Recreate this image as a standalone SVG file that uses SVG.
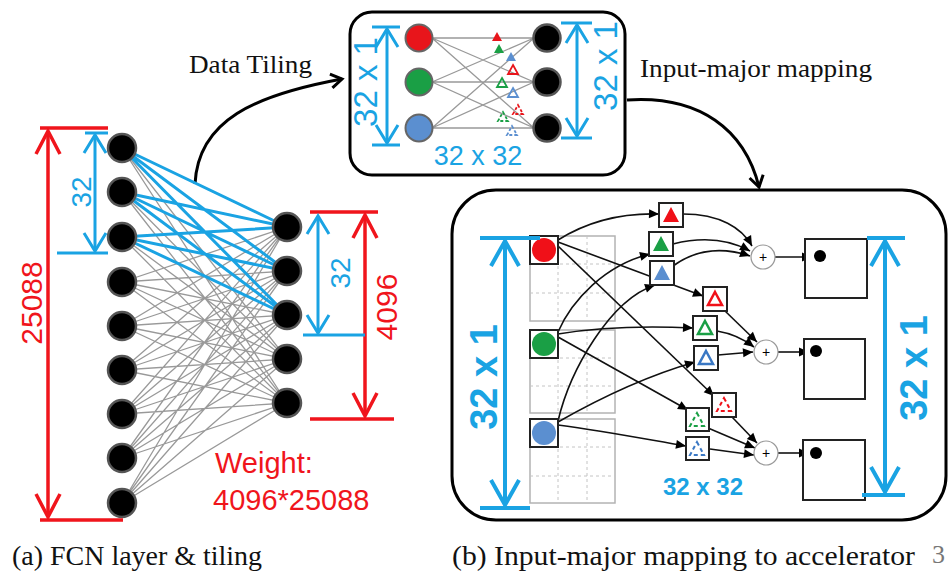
<svg xmlns="http://www.w3.org/2000/svg" width="948" height="575" viewBox="0 0 948 575">
  <style>
    .serif { font-family: "Liberation Serif", "Times New Roman", serif; fill: #111; }
    .sans { font-family: "Liberation Sans", Arial, sans-serif; }
    .red { fill: #f0151c; }
    .blue { fill: #1aa3e3; }
    .gl { stroke: #999; stroke-width: 1.3; fill: none; }
    .bl { stroke: #1aa3e3; stroke-width: 3; fill: none; }
    .node { fill: #000; stroke: #555; stroke-width: 2.5; }
    .dimR { stroke: #f0151c; stroke-width: 3.5; fill: none; }
    .dimB { stroke: #1aa3e3; stroke-width: 3; fill: none; }
    .dimBB { stroke: #1aa3e3; stroke-width: 4; fill: none; }
    .frame { fill: #fff; stroke: #000; stroke-width: 3; }
    .link { stroke: #111; stroke-width: 1.6; fill: none; }
    .wbox { fill: #fff; stroke: #222; stroke-width: 2; }
    .grid { fill: #fff; stroke: #b3b3b3; stroke-width: 1.5; }
    .gridd { stroke: #c4c4c4; stroke-width: 1; stroke-dasharray: 3 3; fill: none; }
    .plus { fill: #fff; stroke: #999; stroke-width: 1.2; }
    .obox { fill: #fff; stroke: #222; stroke-width: 2; }
  </style>
  <defs>
    <marker id="chev" markerUnits="userSpaceOnUse" viewBox="-14 -10 16 20" refX="0" refY="0" markerWidth="16" markerHeight="20" orient="auto" overflow="visible">
      <path d="M-11,-7 L0,0 L-11,7" fill="none" stroke="#000" stroke-width="3"/>
    </marker>
    <marker id="ah" markerUnits="userSpaceOnUse" viewBox="-10 -5 10 10" refX="0" refY="0" markerWidth="10" markerHeight="10" orient="auto" overflow="visible">
      <path d="M-10,-4.5 L0,0 L-10,4.5 Z" fill="#000"/>
    </marker>
    <marker id="vR" markerUnits="userSpaceOnUse" viewBox="-26 -14 28 28" refX="0" refY="0" markerWidth="28" markerHeight="28" orient="auto-start-reverse" overflow="visible">
      <path d="M-23,-12 L0,0 L-23,12" fill="none" stroke="#f0151c" stroke-width="3.5"/>
    </marker>
    <marker id="vB" markerUnits="userSpaceOnUse" viewBox="-22 -12 24 24" refX="0" refY="0" markerWidth="24" markerHeight="24" orient="auto-start-reverse" overflow="visible">
      <path d="M-18,-11 L0,0 L-18,11" fill="none" stroke="#1aa3e3" stroke-width="3"/>
    </marker>
    <marker id="vBB" markerUnits="userSpaceOnUse" viewBox="-28 -16 30 32" refX="0" refY="0" markerWidth="30" markerHeight="32" orient="auto-start-reverse" overflow="visible">
      <path d="M-25,-14 L0,0 L-25,14" fill="none" stroke="#1aa3e3" stroke-width="4"/>
    </marker>
  </defs>

  <rect width="948" height="575" fill="#fff"/>

  <!-- flow arrows between panels -->
  <g id="connectors">
    <path d="M195,184 C198,120 255,95 342,79" fill="none" stroke="#000" stroke-width="3" marker-end="url(#chev)"/>
    <path d="M627,100 C700,95 745,130 759,187" fill="none" stroke="#000" stroke-width="3" marker-end="url(#chev)"/>
  </g>
  <text class="serif" x="189" y="73" font-size="25" textLength="123" lengthAdjust="spacingAndGlyphs">Data Tiling</text>
  <text class="serif" x="640" y="77" font-size="25" textLength="232" lengthAdjust="spacingAndGlyphs">Input-major mapping</text>

  <!-- (a) fully connected layer -->
  <g id="fcn-links">
    <path class="gl" d="M122 148L287 227M122 148L287 271M122 148L287 315M122 148L287 359M122 148L287 403
      M122 192L287 227M122 192L287 271M122 192L287 315M122 192L287 359M122 192L287 403
      M122 237L287 227M122 237L287 271M122 237L287 315M122 237L287 359M122 237L287 403
      M122 282L287 227M122 282L287 271M122 282L287 315M122 282L287 359M122 282L287 403
      M122 326L287 227M122 326L287 271M122 326L287 315M122 326L287 359M122 326L287 403
      M122 370L287 227M122 370L287 271M122 370L287 315M122 370L287 359M122 370L287 403
      M122 414L287 227M122 414L287 271M122 414L287 315M122 414L287 359M122 414L287 403
      M122 458L287 227M122 458L287 271M122 458L287 315M122 458L287 359M122 458L287 403
      M122 503L287 227M122 503L287 271M122 503L287 315M122 503L287 359M122 503L287 403"/>
    <path class="bl" d="M122 148L287 227M122 148L287 271M122 148L287 315
      M122 192L287 227M122 192L287 271M122 192L287 315
      M122 237L287 227M122 237L287 271M122 237L287 315"/>
  </g>
  <g id="fcn-inputs">
    <circle class="node" cx="122" cy="148" r="14"/>
    <circle class="node" cx="122" cy="192" r="14"/>
    <circle class="node" cx="122" cy="237" r="14"/>
    <circle class="node" cx="122" cy="282" r="14"/>
    <circle class="node" cx="122" cy="326" r="14"/>
    <circle class="node" cx="122" cy="370" r="14"/>
    <circle class="node" cx="122" cy="414" r="14"/>
    <circle class="node" cx="122" cy="458" r="14"/>
    <circle class="node" cx="122" cy="503" r="14"/>
  </g>
  <g id="fcn-outputs">
    <circle class="node" cx="287" cy="227" r="14"/>
    <circle class="node" cx="287" cy="271" r="14"/>
    <circle class="node" cx="287" cy="315" r="14"/>
    <circle class="node" cx="287" cy="359" r="14"/>
    <circle class="node" cx="287" cy="403" r="14"/>
  </g>

  <!-- (a) dimension markers -->
  <g id="dim-25088">
    <path class="dimR" d="M40,128 H108 M40,520 H123"/>
    <line class="dimR" x1="48" y1="131" x2="48" y2="517" marker-start="url(#vR)" marker-end="url(#vR)"/>
    <text class="sans red" font-size="30" text-anchor="middle" transform="translate(42,303) rotate(-90)">25088</text>
  </g>
  <g id="dim-32-in">
    <path class="dimB" d="M85,133 H108 M57,253 H108"/>
    <line class="dimB" x1="95" y1="135" x2="95" y2="251" marker-start="url(#vB)" marker-end="url(#vB)"/>
    <text class="sans blue" font-size="28" text-anchor="middle" transform="translate(91,192) rotate(-90)">32</text>
  </g>
  <g id="dim-4096">
    <path class="dimR" d="M310,212 H378 M310,419 H394"/>
    <line class="dimR" x1="365" y1="215" x2="365" y2="416" marker-start="url(#vR)" marker-end="url(#vR)"/>
    <text class="sans red" font-size="30" text-anchor="middle" transform="translate(397,307) rotate(-90)">4096</text>
  </g>
  <g id="dim-32-out">
    <path class="dimB" d="M303,335 H365"/>
    <line class="dimB" x1="318" y1="216" x2="318" y2="333" marker-start="url(#vB)" marker-end="url(#vB)"/>
    <text class="sans blue" font-size="28" text-anchor="middle" transform="translate(350,273) rotate(-90)">32</text>
  </g>
  <g id="weight-label">
    <text class="sans red" x="215" y="473" font-size="29">Weight:</text>
    <text class="sans red" x="213" y="510" font-size="29">4096*25088</text>
  </g>

  <!-- tiled block -->
  <g id="tile">
    <rect class="frame" x="350" y="12" width="275" height="163" rx="22"/>
    <path class="gl" d="M432 38L534 38M432 38L534 82M432 38L534 128M432 82L534 38M432 82L534 82M432 82L534 128M432 128L534 38M432 128L534 82M432 128L534 128"/>
    <g id="tile-weights" stroke-width="1.8">
      <polygon points="497,32 502,41 492,41" fill="#e8151b"/>
      <polygon points="499,44 504,53 494,53" fill="#1a9f45"/>
      <polygon points="511,52 516,61 506,61" fill="#5b8fd0"/>
      <polygon points="513,65 518,74 508,74" fill="none" stroke="#e8151b"/>
      <polygon points="502,78 507,87 497,87" fill="none" stroke="#1a9f45"/>
      <polygon points="513,88 518,97 508,97" fill="none" stroke="#5b8fd0"/>
      <polygon points="518,105 523,114 513,114" fill="none" stroke="#e8151b" stroke-dasharray="3 2"/>
      <polygon points="503,112 508,121 498,121" fill="none" stroke="#1a9f45" stroke-dasharray="3 2"/>
      <polygon points="512,126 517,135 507,135" fill="none" stroke="#5b8fd0" stroke-dasharray="3 2"/>
    </g>
    <circle cx="419" cy="38" r="13.5" fill="#e8151b" stroke="#666" stroke-width="2"/>
    <circle cx="419" cy="82" r="13.5" fill="#1a9f45" stroke="#666" stroke-width="2"/>
    <circle cx="419" cy="128" r="13.5" fill="#5b8fd0" stroke="#666" stroke-width="2"/>
    <circle class="node" cx="547" cy="38" r="13.5"/>
    <circle class="node" cx="547" cy="82" r="13.5"/>
    <circle class="node" cx="547" cy="128" r="13.5"/>
    <path class="dimB" d="M372,27 H400 M372,145 H400"/>
    <line class="dimB" x1="387" y1="29" x2="387" y2="143" marker-start="url(#vB)" marker-end="url(#vB)"/>
    <text class="sans blue" font-size="33" text-anchor="middle" transform="translate(377,82) rotate(-90)">32 x 1</text>
    <path class="dimB" d="M561,23 H592 M561,138 H592"/>
    <line class="dimB" x1="577" y1="25" x2="577" y2="136" marker-start="url(#vB)" marker-end="url(#vB)"/>
    <text class="sans blue" font-size="33" text-anchor="middle" transform="translate(617,66) rotate(-90)">32 x 1</text>
    <text class="sans blue" x="478" y="165" font-size="27" text-anchor="middle">32 x 32</text>
  </g>

  <!-- (b) accelerator mapping -->
  <g id="accelerator">
    <rect class="frame" x="452" y="190" width="494" height="330" rx="44"/>
  </g>
  <g id="input-buffer">
    <rect class="grid" x="530" y="236" width="85" height="85"/>
    <rect class="grid" x="530" y="330" width="85" height="83"/>
    <rect class="grid" x="530" y="419" width="85" height="84"/>
    <path class="gridd" d="M558,236V321M587,236V321M530,264H615M530,293H615
      M558,330V413M587,330V413M530,358H615M530,386H615
      M558,419V503M587,419V503M530,447H615M530,476H615"/>
  </g>
  <g id="mapping-links" marker-end="url(#ah)">
    <path class="link" d="M558,240 C590,220 625,213 659,214"/>
    <path class="link" d="M558,242 L703,296"/>
    <path class="link" d="M558,246 L714,396"/>
    <path class="link" d="M558,332 C572,300 605,265 650,254"/>
    <path class="link" d="M558,334 C600,327 650,326 693,328"/>
    <path class="link" d="M558,337 L688,410"/>
    <path class="link" d="M558,421 C570,370 610,300 655,285"/>
    <path class="link" d="M558,422 C600,398 650,375 695,362"/>
    <path class="link" d="M558,425 C610,432 650,440 686,446"/>
    <path class="link" d="M683,214 C720,214 742,228 752,246" marker-end="url(#ah)"/>
    <path class="link" d="M673,244 C705,236 730,240 750,251" marker-end="url(#ah)"/>
    <path class="link" d="M673,266 C695,250 720,246 750,256" marker-end="url(#ah)"/>
    <path class="link" d="M724,310 L757,342" marker-end="url(#ah)"/>
    <path class="link" d="M717,331 C735,334 745,340 754,347" marker-end="url(#ah)"/>
    <path class="link" d="M718,355 L753,352" marker-end="url(#ah)"/>
    <path class="link" d="M732,417 L757,443" marker-end="url(#ah)"/>
    <path class="link" d="M708,428 L755,448" marker-end="url(#ah)"/>
    <path class="link" d="M710,449 L754,455" marker-end="url(#ah)"/>
    <path class="link" d="M775,257 L812,257" marker-end="url(#ah)"/>
    <path class="link" d="M778,352 L809,352" marker-end="url(#ah)"/>
    <path class="link" d="M778,453 L809,453" marker-end="url(#ah)"/>
  </g>
  <g id="inputs">
    <rect x="530" y="236" width="28" height="28" fill="#fff" stroke="#222" stroke-width="2"/>
    <circle cx="544" cy="250" r="12" fill="#f01018"/>
    <rect x="530" y="330" width="28" height="28" fill="#fff" stroke="#222" stroke-width="2"/>
    <circle cx="544" cy="344" r="12" fill="#1a9f45"/>
    <rect x="530" y="419" width="28" height="28" fill="#fff" stroke="#222" stroke-width="2"/>
    <circle cx="544" cy="433" r="12" fill="#5b8fd0"/>
  </g>
  <g id="weights">
    <rect class="wbox" x="659" y="203" width="24" height="24"/>
    <polygon points="671,207 679,222 663,222" fill="#f01018"/>
    <rect class="wbox" x="649" y="232" width="24" height="24"/>
    <polygon points="661,236 669,251 653,251" fill="#1a9f45"/>
    <rect class="wbox" x="650" y="261" width="24" height="24"/>
    <polygon points="662,265 670,280 654,280" fill="#5b8fd0"/>
    <rect class="wbox" x="703" y="287" width="24" height="24"/>
    <polygon points="715,292 722,305 708,305" fill="none" stroke="#f01018" stroke-width="2.5"/>
    <rect class="wbox" x="693" y="316" width="24" height="24"/>
    <polygon points="705,321 712,334 698,334" fill="none" stroke="#1a9f45" stroke-width="2.5"/>
    <rect class="wbox" x="694" y="346" width="24" height="24" stroke="#2a5d9c"/>
    <polygon points="706,351 713,364 699,364" fill="none" stroke="#3a78c4" stroke-width="2.5"/>
    <rect class="wbox" x="712" y="393" width="24" height="24"/>
    <polygon points="724,398 731,411 717,411" fill="none" stroke="#f01018" stroke-width="2" stroke-dasharray="4 3"/>
    <rect class="wbox" x="686" y="408" width="23" height="23"/>
    <polygon points="697,413 704,426 690,426" fill="none" stroke="#1a9f45" stroke-width="2" stroke-dasharray="4 3"/>
    <rect class="wbox" x="686" y="437" width="23" height="23" stroke="#2a5d9c"/>
    <polygon points="697,442 704,455 690,455" fill="none" stroke="#3a78c4" stroke-width="2" stroke-dasharray="4 3"/>
  </g>
  <g id="adders" class="sans" font-size="14" text-anchor="middle">
    <circle class="plus" cx="763" cy="257" r="12"/>
    <text x="763" y="262">+</text>
    <circle class="plus" cx="766" cy="352" r="12"/>
    <text x="766" y="357">+</text>
    <circle class="plus" cx="766" cy="453" r="12"/>
    <text x="766" y="458">+</text>
  </g>
  <g id="outputs">
    <rect class="obox" x="805" y="239" width="62" height="59"/>
    <circle cx="820" cy="256" r="6" fill="#000"/>
    <rect class="obox" x="804" y="339" width="61" height="60"/>
    <circle cx="816" cy="351" r="6" fill="#000"/>
    <rect class="obox" x="803" y="440" width="62" height="60"/>
    <circle cx="816" cy="453" r="6" fill="#000"/>
  </g>
  <g id="dim-acc-in">
    <path class="dimBB" d="M480,238 H540 M480,508 H530"/>
    <line class="dimBB" x1="505" y1="241" x2="505" y2="505" marker-start="url(#vBB)" marker-end="url(#vBB)"/>
    <text class="sans blue" font-size="38" font-weight="bold" text-anchor="middle" transform="translate(497,377) rotate(-90)">32 x 1</text>
  </g>
  <g id="dim-acc-out">
    <path class="dimBB" d="M867,238 H905 M862,495 H905"/>
    <line class="dimBB" x1="885" y1="241" x2="885" y2="492" marker-start="url(#vBB)" marker-end="url(#vBB)"/>
    <text class="sans blue" font-size="38" font-weight="bold" text-anchor="middle" transform="translate(927,368) rotate(-90)">32 x 1</text>
  </g>
  <text class="sans blue" x="703" y="495" font-size="24" font-weight="bold" text-anchor="middle">32 x 32</text>

  <!-- captions -->
  <text class="serif" x="12" y="565" font-size="27" textLength="250" lengthAdjust="spacingAndGlyphs">(a) FCN layer &amp; tiling</text>
  <text class="serif" x="452" y="565" font-size="27" textLength="463" lengthAdjust="spacingAndGlyphs">(b) Input-major mapping to accelerator</text>
  <text class="serif" x="932" y="563" font-size="26" style="fill:#777">3</text>
</svg>
